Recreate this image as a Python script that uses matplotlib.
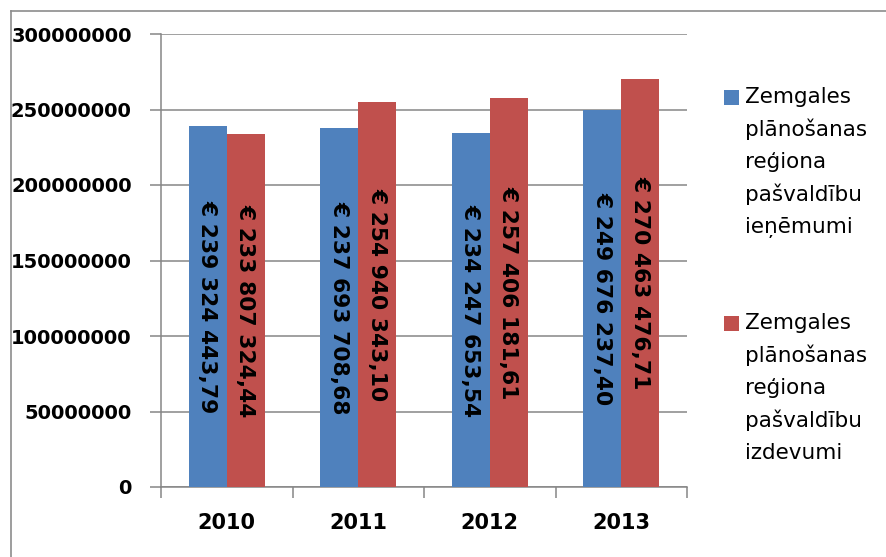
import matplotlib
matplotlib.use("Agg")
import matplotlib.pyplot as plt
from matplotlib.patches import Rectangle
from matplotlib.lines import Line2D
import numpy as np

years = ["2010", "2011", "2012", "2013"]
revenue = [239324443.79, 237693708.68, 234247653.54, 249676237.40]
expenses = [233807324.44, 254940343.10, 257406181.61, 270463476.71]
series_names = [
    "Zemgales\nplānošanas\nreģiona\npašvaldību\nieņēmumi",
    "Zemgales\nplānošanas\nreģiona\npašvaldību\nizdevumi",
]
series_colors = ["#4F81BD", "#C0504D"]
y_ticks = [0, 50000000, 100000000, 150000000, 200000000, 250000000, 300000000]

W, H = 886, 557
fig = plt.figure(figsize=(W / 100, H / 100), dpi=100)
fig.patch.set_facecolor("white")

ax = fig.add_axes([161 / W, 1 - 487 / H, (687 - 161) / W, (487 - 34) / H])

grid_c = "#868686"
x = np.arange(len(years))
bw = 0.29
series = [revenue, expenses]
offsets = [-bw / 2, bw / 2]


def euro(v):
    whole, frac = f"{v:,.2f}".split(".")
    return "€ " + whole.replace(",", " ") + "," + frac


for vals, off, col in zip(series, offsets, series_colors):
    ax.bar(x + off, vals, width=bw, color=col, edgecolor="none", zorder=3)
    for xi, v in zip(x, vals):
        ax.text(xi + off, v / 2, euro(v), rotation=270, ha="center", va="center",
                fontsize=15.7, fontweight="bold", family="DejaVu Sans",
                color="black", zorder=4, rotation_mode="anchor")

ax.set_xlim(-0.5, len(years) - 0.5)
ax.set_ylim(0, 300000000)
ax.set_yticks(y_ticks)
ax.set_yticklabels([str(t) for t in y_ticks], fontsize=14, fontweight="bold",
                   family="DejaVu Sans")
ax.yaxis.grid(True, color=grid_c, linewidth=1.1, zorder=0)
ax.set_axisbelow(True)

# category boundaries carry the tick marks, labels sit at centres
ax.set_xticks(np.arange(-0.5, len(years), 1.0))
ax.set_xticklabels([])
ax.set_xticks(x, minor=True)
ax.set_xticklabels(years, minor=True, fontsize=15, fontweight="bold",
                   family="DejaVu Sans")
ax.tick_params(axis="x", which="major", length=8, width=1.1, color=grid_c, direction="out")
ax.tick_params(axis="x", which="minor", length=0, pad=19)
ax.tick_params(axis="y", length=8, width=1.1, color=grid_c, direction="out", pad=13)

for s in ["top", "right"]:
    ax.spines[s].set_visible(False)
for s in ["left", "bottom"]:
    ax.spines[s].set_color(grid_c)
    ax.spines[s].set_linewidth(1.1)

# legend drawn beside the plot area
line_h = 32.5
starts = [97, 323]
for name, col, y0 in zip(series_names, series_colors, starts):
    fig.add_artist(Rectangle((724 / W, 1 - (y0 + 7.5) / H), 15 / W, 15 / H,
                             transform=fig.transFigure, facecolor=col,
                             edgecolor="none"))
    for k, line in enumerate(name.split("\n")):
        fig.text(745 / W, 1 - (y0 + k * line_h) / H, line, ha="left", va="center",
                 fontsize=15.5, family="DejaVu Sans", color="black")

# chart frame
fc = "#8C8C8C"
fig.add_artist(Line2D([11 / W, 11 / W], [0, 1 - 11 / H], transform=fig.transFigure,
                      color=fc, linewidth=1.2))
fig.add_artist(Line2D([11 / W, 1], [1 - 11 / H, 1 - 11 / H], transform=fig.transFigure,
                      color=fc, linewidth=1.2))

fig.savefig("out.png", dpi=100, facecolor="white")
